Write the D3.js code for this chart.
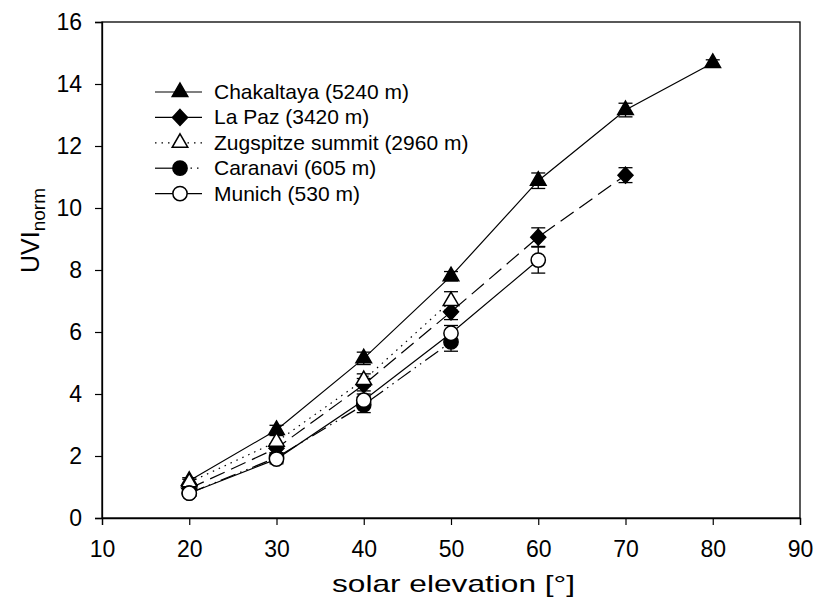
<!DOCTYPE html>
<html>
<head>
<meta charset="utf-8">
<script src="https://cdn.jsdelivr.net/npm/d3@7"></script>
<style>
  body { margin: 0; background: #fff; }
  svg { font-family: "Liberation Sans", Arial, sans-serif; }
</style>
</head>
<body>
<div id="chart"></div>
<script>
// solar elevation values (x)
var elevations = [20, 30, 40, 50, 60, 70, 80];

var chakaltaya = [1.2, 2.84, 5.15, 7.8, 10.88, 13.16, 14.68];
var chakaltayaErr = [0.1, 0.15, 0.2, 0.15, 0.25, 0.22, 0.1];
var lapaz = [0.95, 2.25, 4.3, 6.65, 9.06, 11.06];
var lapazErr = [0.1, 0.15, 0.2, 0.25, 0.3, 0.24];
var zugspitze = [1.15, 2.46, 4.45, 7.0];
var zugspitzeErr = [0.1, 0.2, 0.2, 0.3];
var caranavi = [0.8, 1.95, 3.65, 5.68];
var caranaviErr = [0.1, 0.15, 0.25, 0.3];
var munich = [0.8, 1.9, 3.8, 5.96, 8.32];
var munichErr = [0.1, 0.15, 0.2, 0.25, 0.42];

var xTicks = [10, 20, 30, 40, 50, 60, 70, 80, 90];
var yTicks = [0, 2, 4, 6, 8, 10, 12, 14, 16];

var series = [
  {name: "Chakaltaya (5240 m)", vals: chakaltaya, err: chakaltayaErr, sym: "triangle", fill: "#000", dash: null},
  {name: "La Paz (3420 m)", vals: lapaz, err: lapazErr, sym: "diamond", fill: "#000", dash: "16,7"},
  {name: "Zugspitze summit (2960 m)", vals: zugspitze, err: zugspitzeErr, sym: "triangle", fill: "#fff", dash: "1.5,5"},
  {name: "Caranavi (605 m)", vals: caranavi, err: caranaviErr, sym: "circle", fill: "#000", dash: "16,5,1.5,5,1.5,5"},
  {name: "Munich (530 m)", vals: munich, err: munichErr, sym: "circle", fill: "#fff", dash: null}
];

var W = 815, H = 606;
var margin = {top: 22, right: 15, bottom: 88, left: 102};
var width = W - margin.left - margin.right,
    height = H - margin.top - margin.bottom;

var svg = d3.select("#chart").append("svg")
    .attr("width", W).attr("height", H);
var g = svg.append("g")
    .attr("transform", "translate(" + margin.left + "," + margin.top + ")");

var x = d3.scaleLinear().domain([10, 90]).range([0, width]);
var y = d3.scaleLinear().domain([0, 16]).range([height, 0]);

// frame
g.append("rect").attr("width", width).attr("height", height)
    .attr("fill", "none").attr("stroke", "#000").attr("stroke-width", 1.3);

// Add X axis
var xa = g.append("g")
    .attr("transform", "translate(0," + height + ")")
    .call(d3.axisBottom(x).tickValues(xTicks).tickSize(7).tickPadding(16));
// Add Y axis
var ya = g.append("g")
    .call(d3.axisLeft(y).tickValues(yTicks).tickSize(7).tickPadding(13));
[xa, ya].forEach(function(a) {
  a.select(".domain").attr("stroke-width", 1.3);
  a.selectAll(".tick line").attr("stroke-width", 1.2);
  a.selectAll(".tick text").attr("font-size", 23).attr("fill", "#000")
    .attr("font-family", "Liberation Sans, Arial, sans-serif");
});

// axis titles
svg.append("text")
    .attr("x", 332).attr("y", 592)
    .attr("font-size", 24)
    .attr("textLength", 243).attr("lengthAdjust", "spacingAndGlyphs")
    .text("solar elevation [°]");
var yt = svg.append("text")
    .attr("transform", "translate(39,273) rotate(-90)")
    .attr("text-anchor", "start").attr("font-size", 25);
yt.append("tspan").text("UVI");
yt.append("tspan").attr("font-size", 19).attr("dy", 6).text("norm");

var line = d3.line()
    .x(function(d) { return x(d.x); })
    .y(function(d) { return y(d.y); });

function symbolPath(sym) {
  if (sym === "triangle") return d3.symbol().type(d3.symbolTriangle).size(105)();
  if (sym === "diamond") return "M0,-8L7.5,0L0,8L-7.5,0Z";
  return d3.symbol().type(d3.symbolCircle).size(160)();
}

series.forEach(function(s) {
  var pts = s.vals.map(function(v, i) { return {x: elevations[i], y: v, e: s.err[i]}; });
  g.append("path").datum(pts)
    .attr("d", line)
    .attr("fill", "none").attr("stroke", "#000").attr("stroke-width", 1.2)
    .attr("stroke-dasharray", s.dash);
});

// error bars and markers, drawn after the lines
series.forEach(function(s) {
  var pts = s.vals.map(function(v, i) { return {x: elevations[i], y: v, e: s.err[i]}; });
  var eb = g.append("g").selectAll("g").data(pts).enter().append("g")
    .attr("stroke", "#000").attr("stroke-width", 1.3);
  eb.append("line")
    .attr("x1", function(d) { return x(d.x); }).attr("x2", function(d) { return x(d.x); })
    .attr("y1", function(d) { return y(d.y - d.e); }).attr("y2", function(d) { return y(d.y + d.e); });
  eb.append("line")
    .attr("x1", function(d) { return x(d.x) - 7; }).attr("x2", function(d) { return x(d.x) + 7; })
    .attr("y1", function(d) { return y(d.y + d.e); }).attr("y2", function(d) { return y(d.y + d.e); });
  eb.append("line")
    .attr("x1", function(d) { return x(d.x) - 7; }).attr("x2", function(d) { return x(d.x) + 7; })
    .attr("y1", function(d) { return y(d.y - d.e); }).attr("y2", function(d) { return y(d.y - d.e); });

  g.append("g").selectAll("path").data(pts).enter().append("path")
    .attr("d", symbolPath(s.sym))
    .attr("transform", function(d) { return "translate(" + x(d.x) + "," + y(d.y) + ")"; })
    .attr("fill", s.fill).attr("stroke", "#000").attr("stroke-width", 1.5);
});

// legend
var leg = svg.append("g").attr("transform", "translate(155,92)");
series.forEach(function(s, i) {
  var row = leg.append("g").attr("transform", "translate(0," + (i * 25.4) + ")");
  if (s.name.indexOf("Caranavi") === 0) {
    row.append("line").attr("x1", 0).attr("x2", 25).attr("stroke", "#000").attr("stroke-width", 1.2);
    row.append("line").attr("x1", 25).attr("x2", 47).attr("stroke", "#000").attr("stroke-width", 1.2)
      .attr("stroke-dasharray", "1.5,5").attr("stroke-dashoffset", -4);
  } else {
    row.append("line").attr("x1", 0).attr("x2", 47).attr("stroke", "#000").attr("stroke-width", 1.2)
      .attr("stroke-dasharray", s.dash === "1.5,5" ? s.dash : null);
  }
  row.append("path").attr("d", symbolPath(s.sym))
    .attr("transform", "translate(25,0)")
    .attr("fill", s.fill).attr("stroke", "#000").attr("stroke-width", 1.5);
  row.append("text").attr("x", 59).attr("y", 7).attr("font-size", 21).text(s.name);
});
</script>
</body>
</html>
